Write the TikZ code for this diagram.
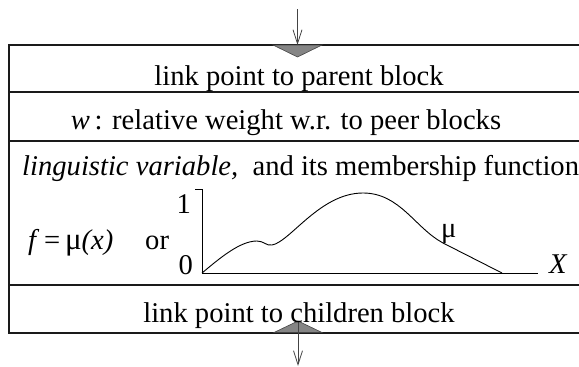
\documentclass[tikz,border=0pt]{standalone}
\usepackage{fontspec}
\setmainfont{Liberation Serif}
\usetikzlibrary{arrows.meta, positioning}
\usepackage{xcolor}
\definecolor{cLine}{HTML}{1A1A1A}
\definecolor{cLink}{HTML}{858585}
\definecolor{cArrow}{HTML}{444444}
\tikzset{
  rowtext/.style={font=\fontsize{28.6}{32}\selectfont, inner sep=0pt, text=black},
  blockline/.style={draw=cLine, line width=1.2pt},
  linkmark/.style={draw=cArrow, fill=cLink, line width=0.6pt, line join=miter},
  arw/.style={-{Straight Barb[length=14pt, width=9pt]}, line width=0.8pt, color=cArrow},
  plotline/.style={draw=black, line width=0.9pt},
}

\begin{document}
\begin{tikzpicture}[x=1pt, y=-1pt]
  \useasboundingbox (0,0) rectangle (579,367);

  % block frame and rows
  \draw[blockline] (600,45) -- (9,45) -- (9,333) -- (600,333);
  \draw[blockline] (9,92) -- (600,92);
  \draw[blockline] (9,141) -- (600,141);
  \draw[blockline] (9,285) -- (600,285);

  % link points
  \coordinate (ptop) at (297.5,45);
  \coordinate (pbot) at (298,321);
  \coordinate (in) at (297.5,9);
  \coordinate (out) at (298,366);
  \filldraw[linkmark] (273,45) -- (322,45) -- (297.5,57) -- cycle;
  \filldraw[linkmark] (274,332.5) -- (322,332.5) -- (pbot) -- cycle;
  \draw[arw] (in) -- (ptop);
  \draw[arw] (pbot) -- (out);

  % row texts
  \node[rowtext, anchor=base] (parent) at (299,85) {link point to parent block};
  \node[rowtext, anchor=base] (weight) at (286,129)
    {\textit{w}\,: relative weight w.r. to peer blocks};
  \node[rowtext, anchor=base west] (lingvar) at (22,175)
    {\textit{linguistic variable,}\ \ and its membership function};
  \node[rowtext, anchor=base] (children) at (299,322) {link point to children block};

  % membership function
  \node[rowtext, anchor=base west] (fdef) at (28,249)
    {\textit{f}\,=\,{\fontsize{31}{32}\selectfont μ}\textit{(x)}};
  \node[rowtext, anchor=base west] (orword) at (145,249) {or};
  \draw[plotline] (195,189) -- (202,189) -- (202,273) -- (538,273);
  \node[rowtext, anchor=base east] (one) at (191,213) {1};
  \node[rowtext, anchor=base east] (zero) at (193,274) {0};
  \node[rowtext, anchor=base west] (xaxis) at (549,273) {\textit{X}};
  \draw[plotline] (202,273) .. controls (220,258) and (240,241) .. (257,241)
    .. controls (264,241) and (266,246) .. (272,245)
    .. controls (290,242) and (320,193) .. (363,193)
    .. controls (400,193) and (415,228) .. (443,243) -- (502,273);
  \node[rowtext, anchor=base west] (mu) at (441,237) {μ};

\end{tikzpicture}
\end{document}
